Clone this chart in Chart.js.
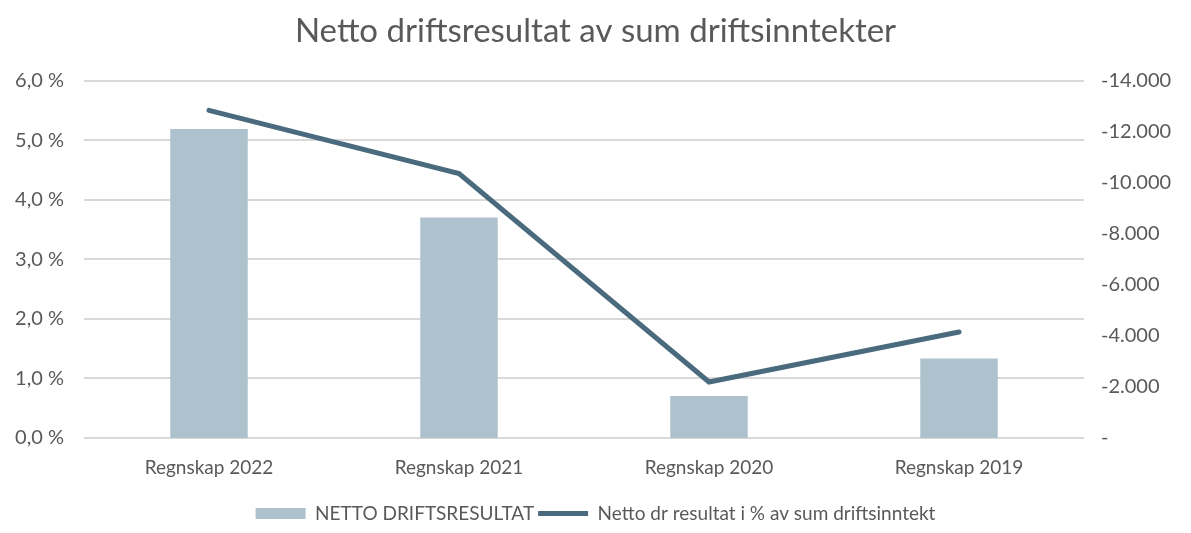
<!DOCTYPE html>
<html lang="no">
<head>
<meta charset="UTF-8">
<title>Netto driftsresultat av sum driftsinntekter</title>
<script src="https://cdn.jsdelivr.net/npm/chart.js"></script>
<style>
  html, body { margin: 0; padding: 0; background: #fff; }
  #wrap { width: 1191px; height: 533px; }
</style>
</head>
<body>
<div id="wrap"><canvas id="driftChart"></canvas></div>
<script>
    // data lest av figuren
    const categories = ['Regnskap 2022', 'Regnskap 2021', 'Regnskap 2020', 'Regnskap 2019'];
    const nettoDriftsresultat = [-12100, -8640, -1650, -3110];   // høyre akse (snudd)
    const nettoProsent = [0.055, 0.0444, 0.0094, 0.0178];         // venstre akse

    const textColor = '#595959';
    const fontFamily = 'Lato, "Open Sans", sans-serif';

    const ctx = document.getElementById('driftChart').getContext('2d');
    new Chart(ctx, {
        data: {
            labels: categories,
            datasets: [{
                type: 'bar',
                label: 'NETTO DRIFTSRESULTAT',
                data: nettoDriftsresultat,
                yAxisID: 'y1',
                backgroundColor: '#AEC2CE',
                borderWidth: 0,
                barPercentage: 0.31,
                categoryPercentage: 1,
                pointStyle: 'rect',
                order: 2
            }, {
                type: 'line',
                label: 'Netto dr resultat i % av sum driftsinntekt',
                data: nettoProsent,
                yAxisID: 'y',
                borderColor: '#4A6A7D',
                backgroundColor: '#4A6A7D',
                borderWidth: 5,
                borderCapStyle: 'round',
                pointRadius: 0,
                pointStyle: 'line',
                tension: 0,
                order: 1
            }]
        },
        options: {
            responsive: true,
            maintainAspectRatio: false,
            animation: false,
            layout: { padding: { top: 12, bottom: 0, left: 0, right: 0 } },
            plugins: {
                title: {
                    display: true,
                    text: 'Netto driftsresultat av sum driftsinntekter',
                    color: textColor,
                    font: { family: fontFamily, size: 33, weight: 'normal' },
                    padding: { top: 0, bottom: 29 }
                },
                legend: {
                    position: 'bottom',
                    labels: {
                        usePointStyle: true,
                        pointStyleWidth: 50,
                        boxHeight: 11,
                        color: textColor,
                        font: { family: fontFamily, size: 19 },
                        padding: 4,
                        sort: (a, b) => a.datasetIndex - b.datasetIndex
                    }
                },
                tooltip: { enabled: false }
            },
            scales: {
                x: {
                    grid: { display: false },
                    border: { display: false },
                    ticks: { color: textColor, font: { family: fontFamily, size: 19 }, padding: 10 },
                    afterFit: s => { s.height = 62; }
                },
                y: {
                    position: 'left',
                    min: 0,
                    max: 0.06,
                    ticks: {
                        stepSize: 0.01,
                        color: textColor,
                        font: { family: fontFamily, size: 20 },
                        padding: 20,
                        callback: v => (v * 100).toFixed(1).replace('.', ',') + ' %'
                    },
                    grid: { color: '#D9D9D9', lineWidth: 2, drawTicks: false },
                    border: { display: false },
                    afterFit: s => { s.width = 84; }
                },
                y1: {
                    position: 'right',
                    min: -14000,
                    max: 0,
                    reverse: true,
                    ticks: {
                        stepSize: 2000,
                        color: textColor,
                        font: { family: fontFamily, size: 20 },
                        padding: 17,
                        callback: v => v === 0 ? '-' : '-' + Math.abs(v).toLocaleString('de-DE')
                    },
                    grid: { display: false, drawTicks: false },
                    border: { display: false },
                    afterFit: s => { s.width = 107; }
                }
            }
        }
    });
</script>
</body>
</html>
